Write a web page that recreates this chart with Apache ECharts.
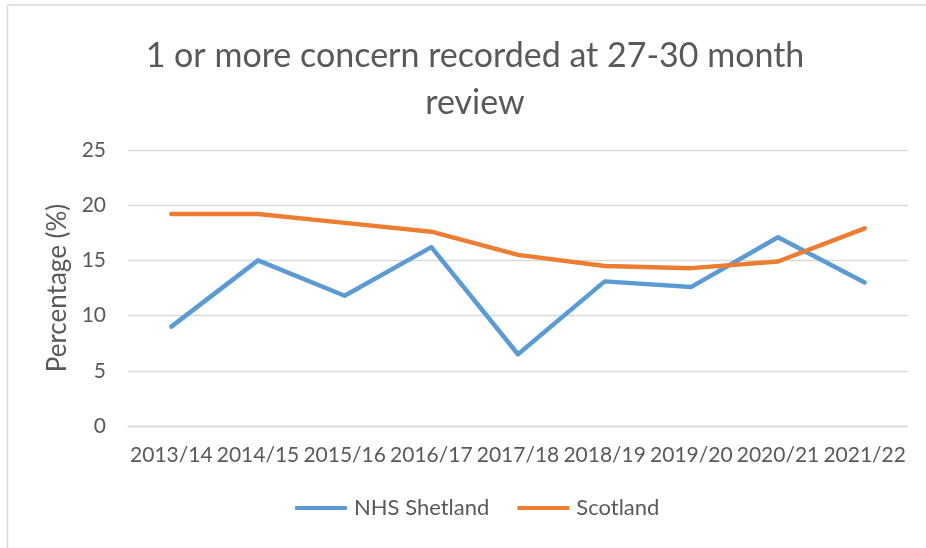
<!DOCTYPE html>
<html>
<head>
<meta charset="utf-8">
<script src="https://cdn.jsdelivr.net/npm/echarts@6/dist/echarts.min.js"></script>
<style>
  html, body { margin: 0; padding: 0; background: #fff; }
  #chart { width: 926px; height: 548px; }
</style>
</head>
<body>
<div id="chart"></div>
<script>
// 27-30 month review — NHS Shetland vs Scotland, % with 1+ concern
const YEARS = ["2013/14", "2014/15", "2015/16", "2016/17", "2017/18", "2018/19", "2019/20", "2020/21", "2021/22"];
const SHETLAND = [9.0, 15.0, 11.8, 16.2, 6.5, 13.1, 12.6, 17.1, 13.0];
const SCOTLAND = [19.2, 19.2, 18.4, 17.6, 15.5, 14.5, 14.3, 14.9, 17.9];

const FONT = "Lato, 'Noto Sans', sans-serif";
const TXT = "#595959";
const GRID = "#d9d9d9";

const chart = echarts.init(document.getElementById("chart"), null, { renderer: "canvas" });

chart.setOption({
  backgroundColor: "#fff",
  animation: false,
  textStyle: { fontFamily: FONT },
  title: {
    text: "1 or more concern recorded at 27-30 month\nreview",
    left: 470, top: 28, textAlign: "center",
    textStyle: { color: TXT, fontSize: 34, fontWeight: "normal", lineHeight: 47, fontFamily: FONT },
  },
  graphic: [
    { type: "line", shape: { x1: 7.5, y1: 5, x2: 926, y2: 5 }, style: { stroke: GRID, lineWidth: 1.5 }, silent: true },
    { type: "line", shape: { x1: 7.5, y1: 5, x2: 7.5, y2: 548 }, style: { stroke: GRID, lineWidth: 1.5 }, silent: true },
  ],
  legend: {
    data: ["NHS Shetland", "Scotland"],
    bottom: 24, left: 290,
    itemWidth: 52, itemHeight: 4, itemGap: 28,
    icon: "roundRect",
    textStyle: { color: TXT, fontSize: 22, fontFamily: FONT, padding: [0, 0, 0, 2] },
  },
  grid: { left: 128, right: 18, top: 150, bottom: 122, containLabel: false },
  xAxis: {
    type: "category", data: YEARS, boundaryGap: true,
    axisLine: { lineStyle: { color: GRID, width: 1.3 } },
    axisTick: { show: false },
    axisLabel: { color: TXT, fontSize: 21, margin: 19, interval: 0, fontFamily: FONT },
  },
  yAxis: {
    type: "value", min: 0, max: 25, interval: 5,
    name: "Percentage (%)", nameLocation: "middle", nameGap: 56,
    nameTextStyle: { color: TXT, fontSize: 26, fontFamily: FONT },
    axisLine: { show: false }, axisTick: { show: false },
    axisLabel: { color: TXT, fontSize: 21, margin: 22, fontFamily: FONT },
    splitLine: { lineStyle: { color: GRID, width: 1.3 } },
  },
  series: [
    {
      name: "NHS Shetland", type: "line", data: SHETLAND,
      symbol: "none", itemStyle: { color: "#5b9bd5" },
      lineStyle: { color: "#5b9bd5", width: 4.5, cap: "round", join: "round" },
    },
    {
      name: "Scotland", type: "line", data: SCOTLAND,
      symbol: "none", itemStyle: { color: "#ed7d31" },
      lineStyle: { color: "#ed7d31", width: 4.5, cap: "round", join: "round" },
    },
  ],
});
</script>
</body>
</html>
